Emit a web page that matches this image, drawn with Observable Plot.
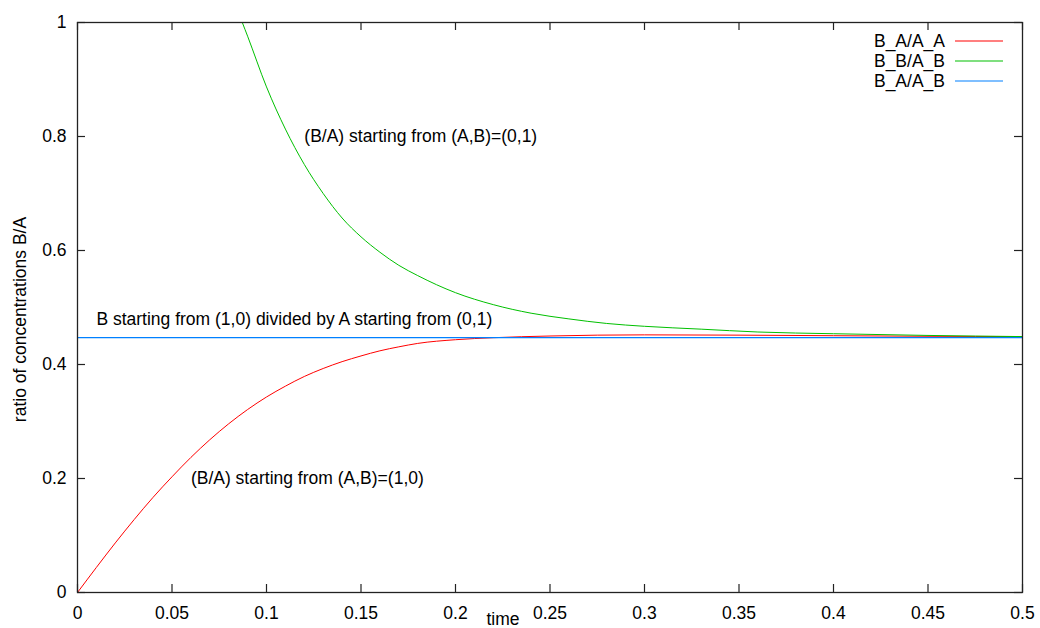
<!DOCTYPE html>
<html><head><meta charset="utf-8">
<script src="https://cdn.jsdelivr.net/npm/d3@7"></script>
<script src="https://cdn.jsdelivr.net/npm/@observablehq/plot@0.6"></script>
<style>
body{margin:0;background:#fff;}
#chart{width:1040px;height:628px;}
</style></head><body><div id="chart"></div>
<script>
// ---- data ----
const redT = [0, 0.01, 0.02, 0.03, 0.04, 0.05, 0.06, 0.07, 0.08, 0.09, 0.10, 0.11, 0.12, 0.13, 0.14, 0.15, 0.16, 0.17, 0.18, 0.20, 0.22, 0.25, 0.30, 0.35, 0.40, 0.45, 0.50];
const redV = [0, 0.044, 0.087, 0.128, 0.167, 0.203, 0.237, 0.268, 0.296, 0.321, 0.343, 0.362, 0.379, 0.393, 0.405, 0.415, 0.424, 0.431, 0.437, 0.4435, 0.447, 0.450, 0.452, 0.4515, 0.4505, 0.4495, 0.449];
const greenT = [0.0872, 0.09, 0.10, 0.11, 0.12, 0.13, 0.14, 0.15, 0.16, 0.17, 0.18, 0.20, 0.22, 0.24, 0.26, 0.28, 0.30, 0.33, 0.36, 0.40, 0.45, 0.50];
const greenV = [1.0, 0.976, 0.887, 0.813, 0.751, 0.700, 0.657, 0.624, 0.597, 0.574, 0.556, 0.526, 0.505, 0.490, 0.480, 0.472, 0.467, 0.462, 0.457, 0.454, 0.451, 0.449];
const blueT = [0, 0.5];
const blueV = [0.447, 0.447];

const seriesNames = ["B_A/A_A", "B_B/A_B", "B_A/A_B"];
const seriesColors = ["#ff0000", "#00c000", "#0080ff"];

const xTicks = [0, 0.05, 0.1, 0.15, 0.2, 0.25, 0.3, 0.35, 0.4, 0.45, 0.5];
const xTickLabels = ["0", "0.05", "0.1", "0.15", "0.2", "0.25", "0.3", "0.35", "0.4", "0.45", "0.5"];
const yTicks = [0, 0.2, 0.4, 0.6, 0.8, 1];
const yTickLabels = ["0", "0.2", "0.4", "0.6", "0.8", "1"];

const noteX = [0.12, 0.01, 0.06];
const noteY = [0.8, 0.48, 0.2];
const noteText = ["(B/A) starting from (A,B)=(0,1)", "B starting from (1,0) divided by A starting from (0,1)", "(B/A) starting from (A,B)=(1,0)"];

const xLabel = "time";
const yLabel = "ratio of concentrations B/A";

// ---- tables ----
const red = redT.map((t, i) => ({t, v: redV[i]}));
const green = greenT.map((t, i) => ({t, v: greenV[i]}));
const blue = blueT.map((t, i) => ({t, v: blueV[i]}));
const notes = noteX.map((x, i) => ({x, y: noteY[i], text: noteText[i]}));

const W = 1040, H = 628, mL = 77, mR = 18, mT = 22, mB = 36;
const innerW = W - mL - mR, innerH = H - mT - mB;
const font = "'Liberation Sans', Arial, Helvetica, sans-serif";
const fs = 17.5;
const frameColor = "#222";
const tickLen = 8;
const tk = {stroke: frameColor, strokeWidth: 1.2};

const plot = Plot.plot({
  width: W, height: H,
  marginLeft: mL, marginRight: mR, marginTop: mT, marginBottom: mB,
  style: {fontFamily: font, fontSize: fs + "px", color: "#000", background: "#fff", overflow: "visible"},
  x: {domain: [0, 0.5]},
  y: {domain: [0, 1]},
  marks: [
    Plot.line(red, {x: "t", y: "v", stroke: seriesColors[0], strokeWidth: 1, curve: "monotone-x", clip: true}),
    Plot.line(green, {x: "t", y: "v", stroke: seriesColors[1], strokeWidth: 1, curve: "monotone-x", clip: true}),
    Plot.line(blue, {x: "t", y: "v", stroke: seriesColors[2], strokeWidth: 1.2, clip: true}),
    Plot.text(notes, {x: "x", y: "y", text: "text", textAnchor: "start", lineAnchor: "middle", fontSize: fs, fill: "#000"}),
    Plot.frame({stroke: frameColor, strokeWidth: 1.3}),
    // inward ticks on all four sides (gnuplot mirror ticks)
    Plot.ruleX(xTicks, {x: d => d, insetTop: innerH - tickLen, ...tk}),
    Plot.ruleX(xTicks, {x: d => d, insetBottom: innerH - tickLen, ...tk}),
    Plot.ruleY(yTicks, {y: d => d, insetRight: innerW - tickLen, ...tk}),
    Plot.ruleY(yTicks, {y: d => d, insetLeft: innerW - tickLen, ...tk}),
    Plot.axisX({ticks: xTicks, tickFormat: d => xTickLabels[xTicks.indexOf(d)], tickSize: 0, tickPadding: 14, label: null, fontSize: fs}),
    Plot.axisY({ticks: yTicks, tickFormat: d => yTickLabels[yTicks.indexOf(d)], tickSize: 0, tickPadding: 11, label: null, fontSize: fs}),
    Plot.text([xLabel], {frameAnchor: "bottom", dx: -47, dy: 27, lineAnchor: "middle", fontSize: fs, fill: "#000"}),
    Plot.text([yLabel], {frameAnchor: "left", rotate: -90, dx: -57, dy: 12, lineAnchor: "middle", textAnchor: "middle", fontSize: fs, fill: "#000"})
  ]
});

// legend (inside top-right of the frame, gnuplot style)
const svg = d3.select(plot);
const frameRight = W - mR, frameTop = mT;
const lg = svg.append("g").attr("font-family", font).attr("font-size", fs);
seriesNames.forEach((name, i) => {
  const yy = frameTop + 19 + i * 20;
  lg.append("text").attr("x", frameRight - 77).attr("y", yy).attr("dy", "0.35em")
    .attr("text-anchor", "end").attr("fill", "#000").text(name);
  lg.append("line").attr("x1", frameRight - 67).attr("x2", frameRight - 19)
    .attr("y1", yy).attr("y2", yy).attr("stroke", seriesColors[i]).attr("stroke-width", 1.2);
});

document.getElementById("chart").appendChild(plot);
</script>
</body></html>
